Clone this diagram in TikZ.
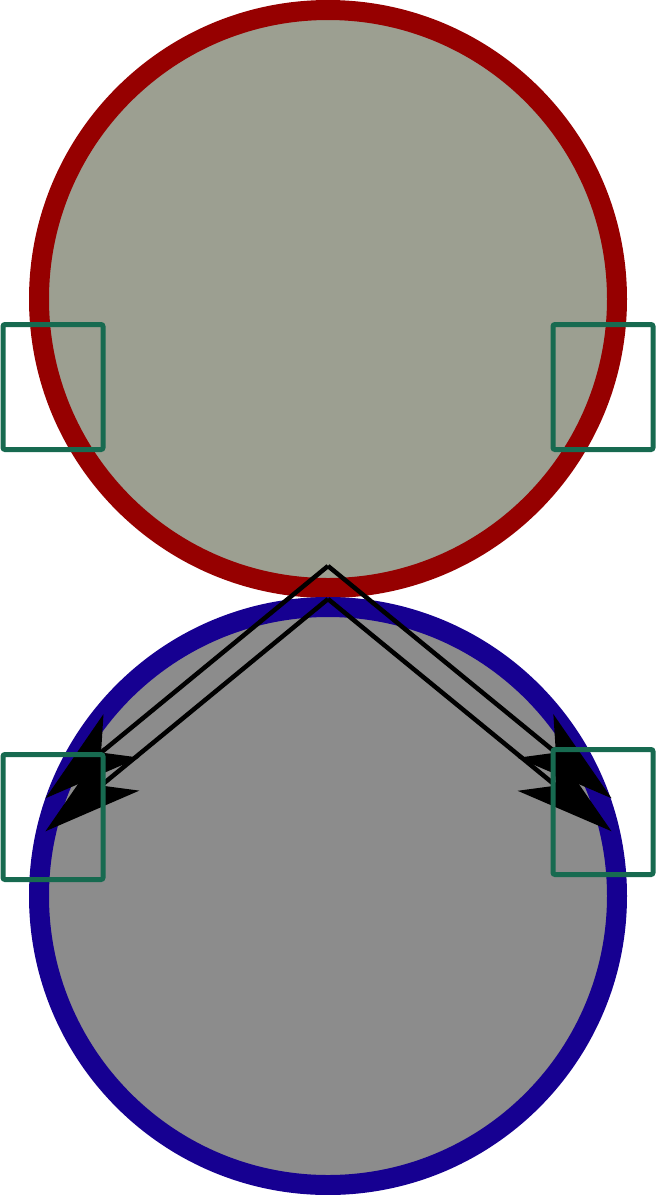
\documentclass[tikz,border=0pt]{standalone}
\usetikzlibrary{arrows.meta}
\definecolor{ringred}{RGB}{150,0,0}
\definecolor{ringblue}{RGB}{22,0,145}
\definecolor{fillgreen}{RGB}{156,159,145}
\definecolor{fillgray}{RGB}{140,140,140}
\definecolor{boxgreen}{RGB}{23,106,80}
\tikzset{
  ball/.style={circle, inner sep=0pt, minimum size=578pt, line width=20pt},
  gbox/.style={draw=boxgreen, line width=5pt, rounded corners=2pt, minimum width=100pt, minimum height=125pt, inner sep=0pt},
  chev/.style={draw=black, line width=4.5pt, -{Stealth[length=98pt, width=56pt, inset=26pt]}, shorten >=-2pt},
}
\begin{document}
\begin{tikzpicture}[x=1pt, y=-1pt]
\useasboundingbox (0,0) rectangle (656,1195);
\node[ball, draw=ringred, fill=fillgreen] (top) at (328,299) {};
\node[ball, draw=ringblue, fill=fillgray] (bottom) at (328,896) {};
\coordinate (apexA) at (328,566);
\coordinate (apexB) at (328,599);
\coordinate (tipAL) at (47,797);
\coordinate (tipAR) at (610,797);
\coordinate (tipBL) at (47,830);
\coordinate (tipBR) at (610,830);
\draw[chev] (apexA) -- (tipAL);
\draw[chev] (apexA) -- (tipAR);
\draw[chev] (apexB) -- (tipBL);
\draw[chev] (apexB) -- (tipBR);
\node[gbox] (b1) at (53,387) {};
\node[gbox] (b2) at (603,387) {};
\node[gbox] (b3) at (53,817) {};
\node[gbox] (b4) at (603,812) {};
\end{tikzpicture}
\end{document}
